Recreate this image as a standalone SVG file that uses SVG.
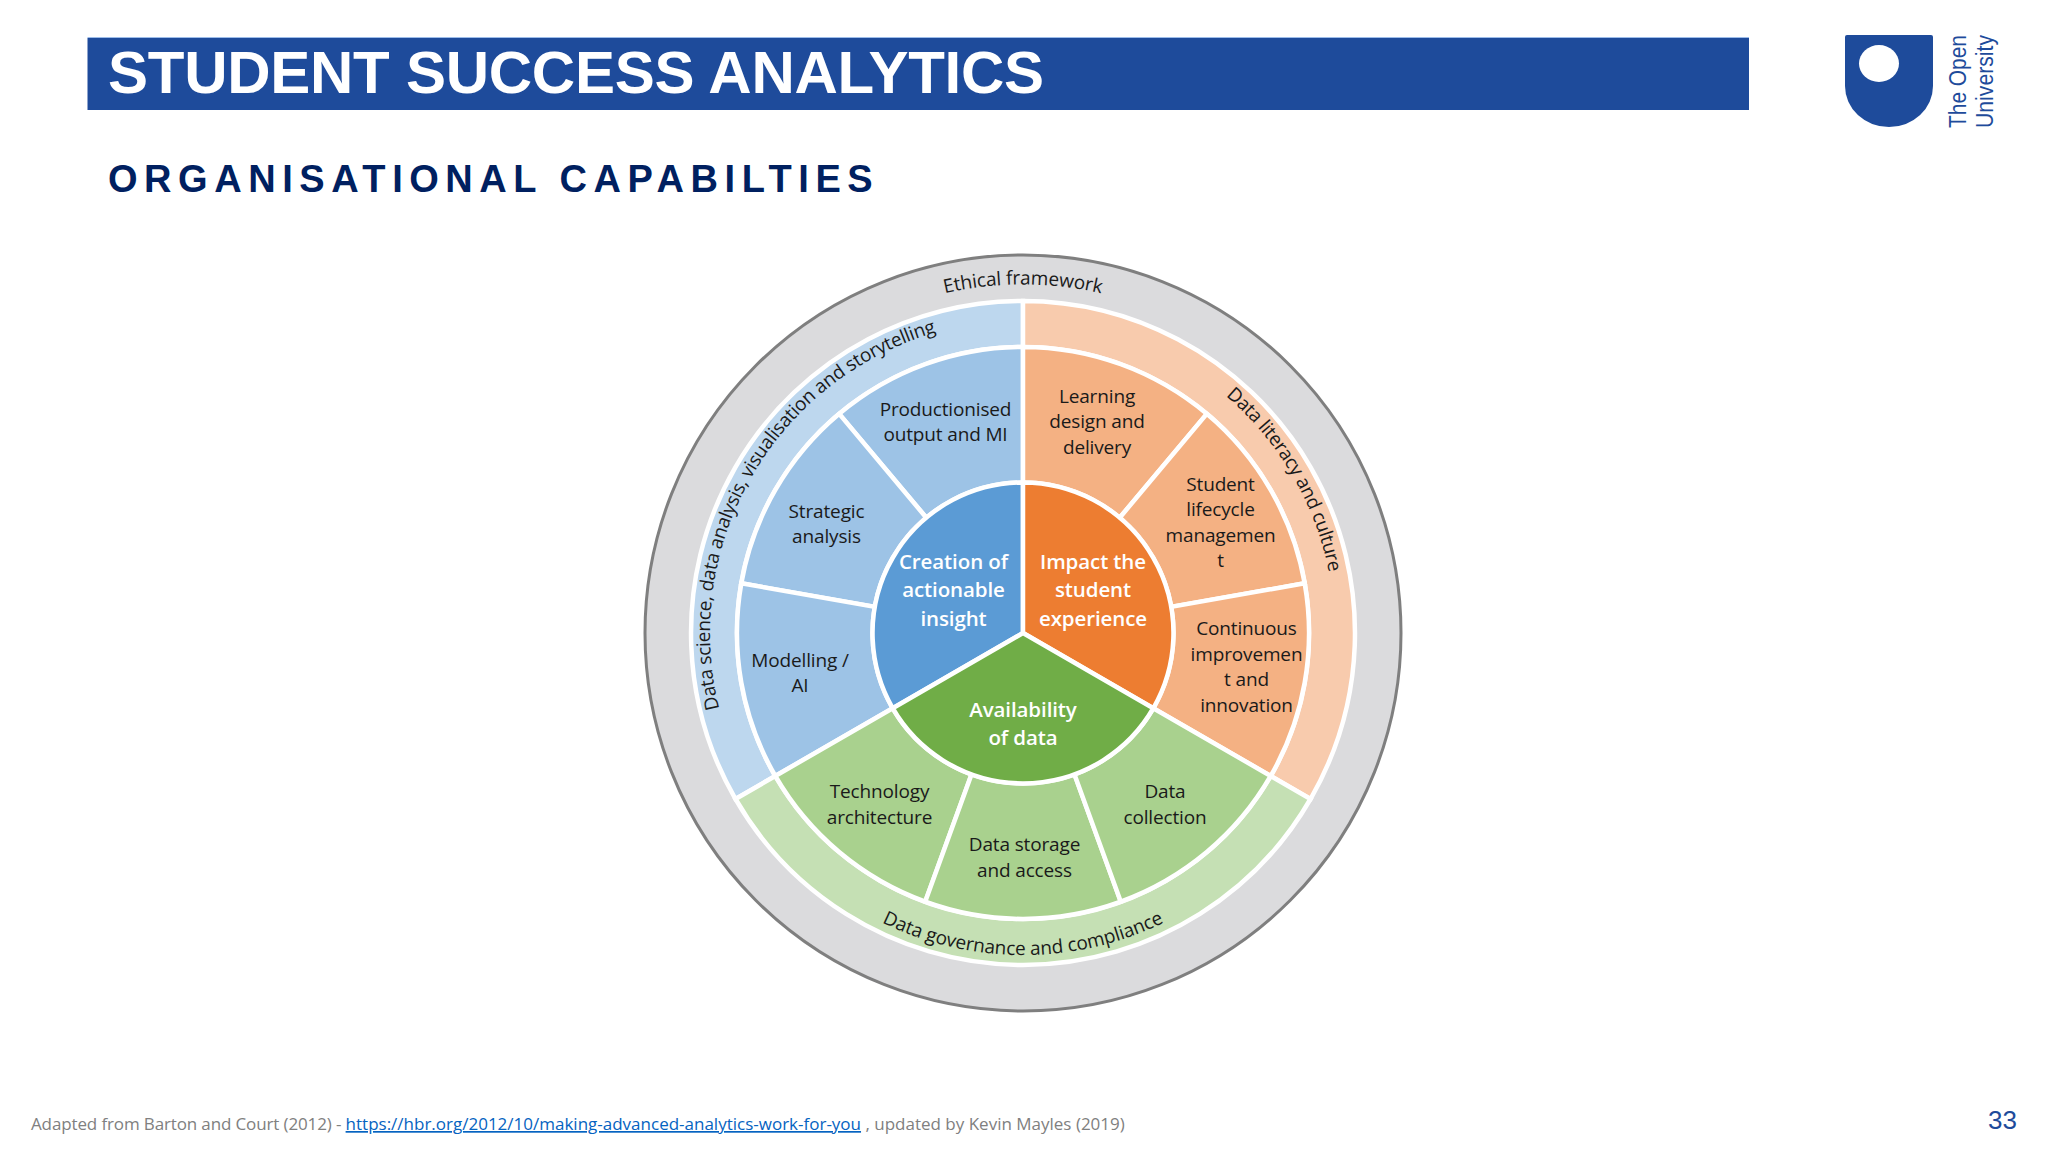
<svg xmlns="http://www.w3.org/2000/svg" width="2048" height="1152" viewBox="0 0 2048 1152">
<style>
.w{stroke:#fff;stroke-width:4.5;stroke-linejoin:miter}
.t{font-family:"Open Sans","Noto Sans",sans-serif;font-size:19px;letter-spacing:-.15px;fill:#1a1a1a;text-anchor:middle}
.b{font-family:"Open Sans","Noto Sans",sans-serif;font-size:20.5px;font-weight:600;letter-spacing:-.1px;fill:#fff;text-anchor:middle}
.c{font-family:"Open Sans","Noto Sans",sans-serif;font-size:19px;fill:#1a1a1a}
.lb1{fill:#BDD7EE}.lb2{fill:#9DC3E6}.lb3{fill:#5B9BD5}
.lo1{fill:#F8CBAD}.lo2{fill:#F4B183}.lo3{fill:#ED7D31}
.lg1{fill:#C5E0B4}.lg2{fill:#A9D18E}.lg3{fill:#70AD47}
.f{font-family:"Open Sans","Noto Sans",sans-serif;font-size:17px;fill:#808080}
</style>
<defs>
<path id="pE" d="M721,458.5 A349,349 0 0 1 1325,458.5"/>
<path id="pB" d="M751.9,789.5 A313,313 0 0 1 1023,320"/>
<path id="pO" d="M1023,321 A312,312 0 0 1 1293.2,789"/>
<path id="pG" d="M744.1,794 A322,322 0 0 0 1301.9,794"/>
</defs>
<rect width="2048" height="1152" fill="#fff"/>
<g id="header">
<rect x="87.5" y="37" width="1661.5" height="1" fill="#9DBDEA"/>
<rect x="87.5" y="38" width="1661.5" height="72" fill="#1E4B9B"/>
<text x="108" y="93" font-family="Liberation Sans" font-size="60" font-weight="700" fill="#fff" letter-spacing="-.26">STUDENT SUCCESS ANALYTICS</text>
<text x="108" y="192" font-family="Liberation Sans" font-size="38" font-weight="700" fill="#002060" letter-spacing="6.55">ORGANISATIONAL  CAPABILTIES</text>
</g>
<g id="logo" fill="#1E4B9B">
<path d="M1847,35 H1931 Q1933,35 1933,37 V86 A44,41 0 0 1 1845,86 V37 Q1845,35 1847,35 Z"/>
<ellipse cx="1879" cy="63.5" rx="20" ry="18.5" fill="#fff"/>
<text transform="translate(1966,128) rotate(-90)" font-family="Liberation Sans" font-size="23" textLength="93" lengthAdjust="spacingAndGlyphs">The Open</text>
<text transform="translate(1993,128) rotate(-90)" font-family="Liberation Sans" font-size="23" textLength="93" lengthAdjust="spacingAndGlyphs">University</text>
</g>
<g id="ethical-framework">
<circle cx="1023" cy="633" r="378" fill="#DBDBDD" stroke="#7F7F7F" stroke-width="3"/>
<text class="c" text-anchor="middle" letter-spacing="-.15"><textPath href="#pE" startOffset="50%">Ethical framework</textPath></text>
</g>
<g id="data-science-ring">
<path class="w lb1" d="M735.5,799 A332,332 0 0 1 1023,301 L1023,347 A286,286 0 0 0 775.3,776 Z"/>
<text class="c" letter-spacing="-.3"><textPath href="#pB" startOffset="87.4">Data science, data analysis, visualisation and storytelling</textPath></text>
</g>
<g id="data-literacy-ring">
<path class="w lo1" d="M1023,301 A332,332 0 0 1 1310.5,799 L1270.7,776 A286,286 0 0 0 1023,347 Z"/>
<text class="c" letter-spacing="-.35"><textPath href="#pO" startOffset="220.5">Data literacy and culture</textPath></text>
</g>
<g id="data-governance-ring">
<path class="w lg1" d="M1310.5,799 A332,332 0 0 1 735.5,799 L775.3,776 A286,286 0 0 0 1270.7,776 Z"/>
<text class="c" text-anchor="middle" letter-spacing="-.1"><textPath href="#pG" startOffset="50%">Data governance and compliance</textPath></text>
</g>
<g id="productionised">
<path class="w lb2" d="M1023,347 V482.5 A150.5,150.5 0 0 0 926.3,517.7 L839.2,413.9 A286,286 0 0 1 1023,347 Z"/>
<text class="t" x="945.5" y="415.5">Productionised</text><text class="t" x="945.5" y="441">output and MI</text>
</g>
<g id="strategic">
<path class="w lb2" d="M839.2,413.9 L926.3,517.7 A150.5,150.5 0 0 0 874.8,606.9 L741.3,583.3 A286,286 0 0 1 839.2,413.9 Z"/>
<text class="t" x="826.5" y="517.5">Strategic</text><text class="t" x="826.5" y="543">analysis</text>
</g>
<g id="modelling">
<path class="w lb2" d="M741.3,583.3 L874.8,606.9 A150.5,150.5 0 0 0 892.7,708.25 L775.3,776 A286,286 0 0 1 741.3,583.3 Z"/>
<text class="t" x="800" y="666.5">Modelling /</text><text class="t" x="800" y="692">AI</text>
</g>
<g id="learning">
<path class="w lo2" d="M1023,347 V482.5 A150.5,150.5 0 0 1 1119.7,517.7 L1206.8,413.9 A286,286 0 0 0 1023,347 Z"/>
<text class="t" x="1097" y="402.5">Learning</text><text class="t" x="1097" y="428">design and</text><text class="t" x="1097" y="453.5">delivery</text>
</g>
<g id="student-lifecycle">
<path class="w lo2" d="M1206.8,413.9 L1119.7,517.7 A150.5,150.5 0 0 1 1171.2,606.9 L1304.7,583.3 A286,286 0 0 0 1206.8,413.9 Z"/>
<text class="t" x="1220.5" y="490.5">Student</text><text class="t" x="1220.5" y="516">lifecycle</text><text class="t" x="1220.5" y="541.5">managemen</text><text class="t" x="1220.5" y="567">t</text>
</g>
<g id="continuous">
<path class="w lo2" d="M1304.7,583.3 L1171.2,606.9 A150.5,150.5 0 0 1 1153.3,708.25 L1270.7,776 A286,286 0 0 0 1304.7,583.3 Z"/>
<text class="t" x="1246.5" y="635">Continuous</text><text class="t" x="1246.5" y="660.5">improvemen</text><text class="t" x="1246.5" y="686">t and</text><text class="t" x="1246.5" y="711.5">innovation</text>
</g>
<g id="technology">
<path class="w lg2" d="M775.3,776 L892.7,708.25 A150.5,150.5 0 0 0 971.5,774.4 L925.2,901.7 A286,286 0 0 1 775.3,776 Z"/>
<text class="t" x="879.5" y="798">Technology</text><text class="t" x="879.5" y="823.5">architecture</text>
</g>
<g id="data-storage">
<path class="w lg2" d="M925.2,901.7 L971.5,774.4 A150.5,150.5 0 0 0 1074.5,774.4 L1120.8,901.7 A286,286 0 0 1 925.2,901.7 Z"/>
<text class="t" x="1024.5" y="851">Data storage</text><text class="t" x="1024.5" y="876.5">and access</text>
</g>
<g id="data-collection">
<path class="w lg2" d="M1120.8,901.7 L1074.5,774.4 A150.5,150.5 0 0 0 1153.3,708.25 L1270.7,776 A286,286 0 0 1 1120.8,901.7 Z"/>
<text class="t" x="1165" y="798">Data</text><text class="t" x="1165" y="823.5">collection</text>
</g>
<g id="creation">
<path class="w lb3" d="M1023,633 V482.5 A150.5,150.5 0 0 0 892.7,708.25 Z"/>
<text class="b" x="953.5" y="568.5">Creation of</text><text class="b" x="953.5" y="597">actionable</text><text class="b" x="953.5" y="625.5">insight</text>
</g>
<g id="impact">
<path class="w lo3" d="M1023,633 V482.5 A150.5,150.5 0 0 1 1153.3,708.25 Z"/>
<text class="b" x="1093" y="568.5">Impact the</text><text class="b" x="1093" y="597">student</text><text class="b" x="1093" y="625.5">experience</text>
</g>
<g id="availability">
<path class="w lg3" d="M1023,633 L1153.3,708.25 A150.5,150.5 0 0 1 892.7,708.25 Z"/>
<text class="b" x="1023" y="716.5">Availability</text><text class="b" x="1023" y="745">of data</text>
</g>
<g id="connectors"></g>
<g id="footer">
<text class="f" x="31" y="1130"><tspan letter-spacing="-.13">Adapted from Barton and Court (2012) - </tspan><tspan fill="#0563C1" text-decoration="underline">https://hbr.org/2012/10/making-advanced-analytics-work-for-you</tspan> , updated by Kevin Mayles (2019)</text>
<text x="1988" y="1129" font-family="Liberation Sans" font-size="26" fill="#1E4B9B">33</text>
</g>
</svg>
